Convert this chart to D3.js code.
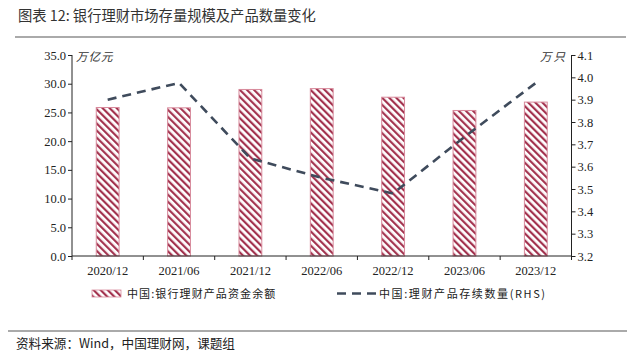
<!DOCTYPE html>
<html><head><meta charset="utf-8">
<script src="https://cdn.jsdelivr.net/npm/d3@7/dist/d3.min.js"></script>
<style>body{margin:0;background:#fff}svg{display:block}</style>
</head><body><svg id="c" width="640" height="356"></svg>
<script>
const categories = ["2020/12","2021/06","2021/12","2022/06","2022/12","2023/06","2023/12"];
const balance = [25.86, 25.80, 29.00, 29.15, 27.65, 25.34, 26.80];
const productCount = [3.90, 3.975, 3.637, 3.55, 3.48, 3.733, 3.975];
const leftTicks = [0,5,10,15,20,25,30,35];
const rightTicks = [3.2,3.3,3.4,3.5,3.6,3.7,3.8,3.9,4.0,4.1];
const title = "图表 12: 银行理财市场存量规模及产品数量变化";
const source = "资料来源：Wind，中国理财网，课题组";
const seriesNames = ["中国:银行理财产品资金余额","中国:理财产品存续数量(RHS)"];

const svg = d3.select("#c");
const cjk = "'Noto Sans CJK SC', sans-serif";
const serif = "'Liberation Serif', 'DejaVu Serif', serif";
const L = 72, R = 571.5, T = 55, B = 256;

const defs = svg.append("defs");
const pat = defs.append("pattern").attr("id","hatch").attr("patternUnits","userSpaceOnUse")
  .attr("width",5).attr("height",5).attr("patternTransform","rotate(-45)");
pat.append("rect").attr("width",5).attr("height",5).attr("fill","#fff");
pat.append("rect").attr("x",0).attr("y",0).attr("width",2.2).attr("height",5).attr("fill","#a3334f");

// title
svg.append("text").attr("x",18).attr("y",21).attr("font-family",cjk).attr("font-size",14.3)
  .attr("fill","#333").text(title);
svg.append("line").attr("x1",15).attr("x2",626).attr("y1",37).attr("y2",37).attr("stroke","#aaa").attr("stroke-width",2);

const x = d3.scaleBand().domain(categories).range([L,R]).paddingInner(0).paddingOuter(0);
const yL = d3.scaleLinear().domain([0,35]).range([B,T]);
const yR = d3.scaleLinear().domain([3.2,4.1]).range([B,T]);
const bw = x.bandwidth()*0.32;

// bars
svg.append("g").selectAll("rect").data(balance).join("rect")
  .attr("x",(d,i)=>x(categories[i])+x.bandwidth()/2-bw/2)
  .attr("y",d=>yL(d)).attr("width",bw).attr("height",d=>B-yL(d))
  .attr("fill","url(#hatch)").attr("stroke","#d88a9c").attr("stroke-width",1);

// line
const line = d3.line().x((d,i)=>x(categories[i])+x.bandwidth()/2).y(d=>yR(d));
svg.append("path").datum(productCount).attr("d",line).attr("fill","none")
  .attr("stroke","#3f4b5c").attr("stroke-width",2.6).attr("stroke-dasharray","9,6");

// axes
const axL = svg.append("g").attr("transform",`translate(${L},0)`)
  .call(d3.axisLeft(yL).tickValues(leftTicks).tickFormat(d3.format(".1f")).tickSize(4));
const axR = svg.append("g").attr("transform",`translate(${R},0)`)
  .call(d3.axisRight(yR).tickValues(rightTicks).tickFormat(d3.format(".1f")).tickSize(4));
const axB = svg.append("g").attr("transform",`translate(0,${B})`)
  .call(d3.axisBottom(x).tickSize(0).tickPadding(10));
svg.append("g").selectAll("line").data(categories.concat(["end"])).join("line")
  .attr("x1",(d,i)=>L+i*x.bandwidth()).attr("x2",(d,i)=>L+i*x.bandwidth())
  .attr("y1",B).attr("y2",B+4).attr("stroke","#222");
[axL,axR,axB].forEach(a=>{
  a.select(".domain").attr("stroke","#222");
  a.selectAll(".tick line").attr("stroke","#222");
  a.selectAll("text").attr("font-family",serif).attr("font-size",12.5).attr("fill","#222");
});
axL.selectAll("text").attr("x",-6);
axR.selectAll("text").attr("x",6);
axB.select(".domain").attr("d",`M${L},0H${R}`);
axL.select(".domain").attr("d",`M0,${T}V${B}`);
axR.select(".domain").attr("d",`M0,${T}V${B}`);

// units
svg.append("text").attr("x",76).attr("y",61).attr("font-family",cjk).attr("font-size",11.5)
  .attr("font-style","italic").attr("fill","#333").attr("letter-spacing",1).text("万亿元");
svg.append("text").attr("x",567).attr("y",61).attr("text-anchor","end").attr("font-family",cjk)
  .attr("font-size",11.5).attr("font-style","italic").attr("fill","#333").attr("letter-spacing",2).text("万只");

// legend
const lg = svg.append("g");
lg.append("rect").attr("x",92).attr("y",290).attr("width",29).attr("height",7)
  .attr("fill","url(#hatch)").attr("stroke","#d88a9c").attr("stroke-width",0.8);
lg.append("text").attr("x",127).attr("y",297.5).attr("font-family",cjk).attr("font-size",11)
  .attr("fill","#222").attr("letter-spacing",1.1).text(seriesNames[0]);
lg.append("line").attr("x1",337).attr("x2",378).attr("y1",293.5).attr("y2",293.5)
  .attr("stroke","#3f4b5c").attr("stroke-width",2.6).attr("stroke-dasharray","9,6");
lg.append("text").attr("x",379).attr("y",297.5).attr("font-family",cjk).attr("font-size",11)
  .attr("fill","#222").attr("letter-spacing",1.6).text(seriesNames[1]);

// source
svg.append("line").attr("x1",8).attr("x2",627).attr("y1",331).attr("y2",331).attr("stroke","#aaa").attr("stroke-width",2);
svg.append("text").attr("x",16).attr("y",348).attr("font-family",cjk).attr("font-size",12.6)
  .attr("fill","#222").text(source);
</script></body></html>
